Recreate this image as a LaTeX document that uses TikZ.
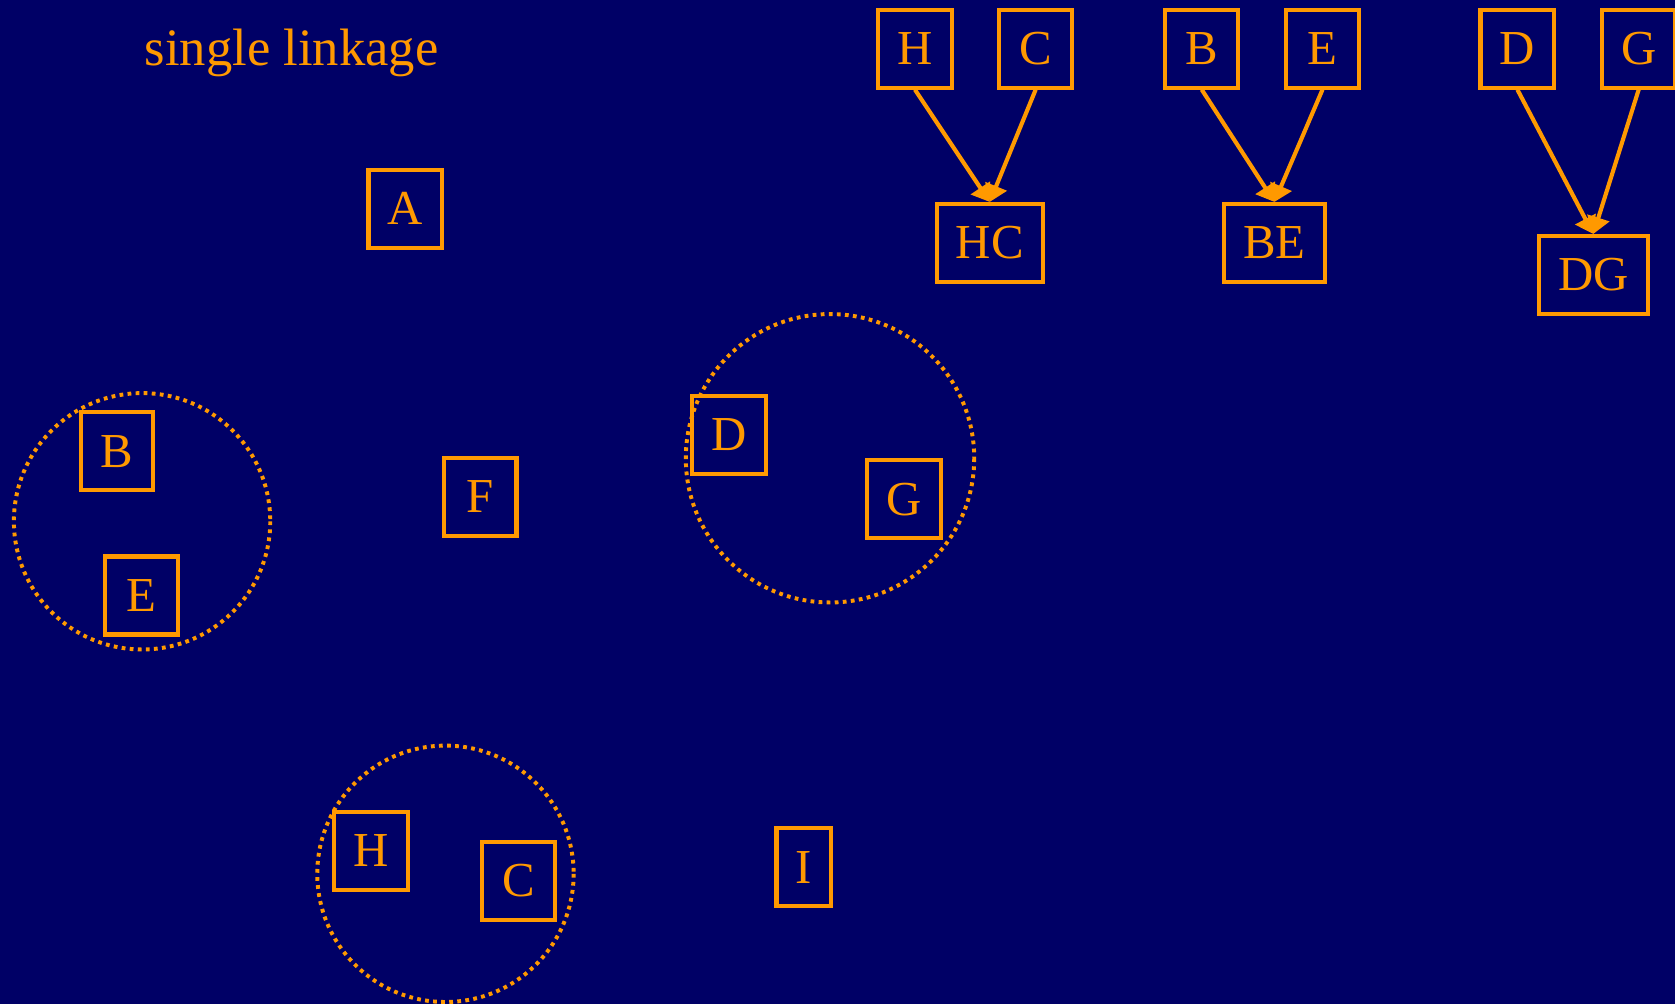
\documentclass[tikz,border=0pt]{standalone}
\usepackage{fontspec}
\setmainfont{Liberation Serif}
\usetikzlibrary{
  arrows.meta,
  positioning
}
\definecolor{slnavy}{HTML}{000066}
\definecolor{slorange}{HTML}{FF9900}

\begin{document}
\begin{tikzpicture}[
      x=0.01cm, y=-0.01cm,
      item/.style={
        rectangle, draw=slorange, line width=1.1pt,
        minimum width=0.68cm, minimum height=0.73cm, inner xsep=0.18cm,
        font=\fontsize{13}{15}\selectfont\color{slorange}
      },
      cluster/.style={draw=slorange, line width=1.05pt, dash pattern=on 1pt off 1.15pt},
      merge/.style={-{Triangle[length=4.5pt, width=6pt]}, line width=1.1pt, slorange},
      title/.style={font=\fontsize{14}{16}\selectfont\color{slorange}}
    ]
      \fill[slnavy] (0,0) rectangle (1568,940);
      \useasboundingbox (0,0) rectangle (1568,940);
      \clip (0,0) rectangle (1568,940);

      \node[title] (ttl) at (273,50) {single linkage};

      % Points
      \node[item] (pA) at (379.5,195.5) {A};
      \node[item] (pB) at (109.5,422.5) {B};
      \node[item] (pE) at (132.5,557.5) {E};
      \node[item] (pF) at (449.5,465) {F};
      \node[item] (pD) at (682.5,407) {D};
      \node[item] (pG) at (846,467.5) {G};
      \node[item] (pH) at (347.5,796.5) {H};
      \node[item] (pC) at (485.5,824.5) {C};
      \node[item, minimum width=0.5cm] (pI) at (752.5,812) {I};

      % Clusters
      \draw[cluster] (133,488) circle (120);
      \draw[cluster] (777,429) circle (135);
      \draw[cluster] (417,818) circle (120);

      % Merges
      \node[item] (tH) at (856.5,45.5) {H};
      \node[item] (tC) at (969.5,45.5) {C};
      \node[item] (tHC) at (926.5,227.5) {HC};
      \node[item] (tB) at (1125,45.5) {B};
      \node[item] (tE) at (1238,45.5) {E};
      \node[item] (tBE) at (1193,227.5) {BE};
      \node[item] (tD) at (1420.5,45.5) {D};
      \node[item] (tG) at (1534,45.5) {G};
      \node[item] (tDG) at (1491.5,257.5) {DG};

      \draw[merge] (tH.south) -- (tHC.north);
      \draw[merge] (tC.south) -- (tHC.north);
      \draw[merge] (tB.south) -- (tBE.north);
      \draw[merge] (tE.south) -- (tBE.north);
      \draw[merge] (tD.south) -- (tDG.north);
      \draw[merge] (tG.south) -- (tDG.north);
    \end{tikzpicture}
\end{document}
